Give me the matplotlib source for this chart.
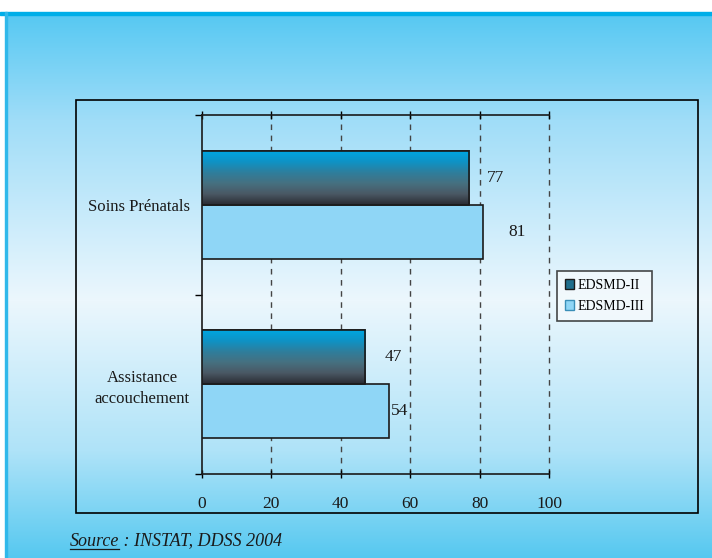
import numpy as np
import matplotlib
matplotlib.use("Agg")
import matplotlib.pyplot as plt
from matplotlib.patches import Rectangle
from matplotlib.lines import Line2D
from matplotlib.colors import LinearSegmentedColormap

plt.rcParams['font.family'] = ['Liberation Serif', 'DejaVu Serif']

# data
categories = ["Assistance\naccouchement", "Soins Prénatals"]
series = ["EDSMD-II", "EDSMD-III"]
edsmd_2 = [47, 77]
edsmd_3 = [54, 81]
label_offsets_2 = [14, 13]   # points, right of bar end
label_offsets_3 = [1, 18]

W, H = 712, 558
fig = plt.figure(figsize=(W / 100, H / 100), dpi=100)

# background gradient with blue border
bg = fig.add_axes([0, 0, 1, 1])
bg.set_xlim(0, W)
bg.set_ylim(H, 0)
bg.axis('off')
stops_y = [12, 120, 300, 450, 558]
stops_c = [(85, 200, 242), (160, 221, 248), (236, 247, 253), (175, 227, 248), (85, 200, 240)]
yy = np.arange(12, H)
img = np.zeros((len(yy), 1, 3))
for k in range(3):
    img[:, 0, k] = np.interp(yy, stops_y, [c[k] for c in stops_c]) / 255
bg.imshow(img, extent=[6, W, H, 12], aspect='auto', zorder=0)
bg.add_patch(Rectangle((0, 12), W, 3, color='#00aee8', zorder=1))
bg.add_patch(Rectangle((5, 12), 2, H, color='#30b8ea', zorder=1))
bg.add_patch(Rectangle((76, 100), 622, 413, fill=False, ec='black', lw=1.2, zorder=2))

ax = fig.add_axes([202 / W, 1 - 474 / H, 347 / W, 359 / H])
ax.patch.set_alpha(0)

y = np.arange(len(categories))
h = 0.3
dark = LinearSegmentedColormap.from_list('d', ['#00a5e0', '#0f92c4', '#2f7e9c', '#467080', '#4a5864', '#2a2c33'])
grad = np.linspace(0, 1, 100).reshape(-1, 1)

bars2 = ax.barh(y + h / 2, edsmd_2, height=h, color='#1a6f90', edgecolor='#1a1a1a', lw=1.2, zorder=3)
for b in bars2:
    x0, y0 = b.get_x(), b.get_y()
    im = ax.imshow(grad, cmap=dark, extent=[x0, x0 + b.get_width(), y0, y0 + b.get_height()],
                   origin='upper', aspect='auto', zorder=3.5)
    im.set_clip_path(b)
    ax.add_patch(Rectangle((x0, y0), b.get_width(), b.get_height(), fill=False,
                           ec='#1a1a1a', lw=1.2, zorder=4))
bars3 = ax.barh(y - h / 2, edsmd_3, height=h, color='#8fd6f6', edgecolor='#1a1a1a', lw=1.2, zorder=3)
ax.set_xlim(0, 100)
ax.set_ylim(-0.5, 1.5)

for b, v, off in zip(bars2, edsmd_2, label_offsets_2):
    ax.annotate(str(v), (v, b.get_y() + b.get_height() / 2), xytext=(off, 0),
                textcoords='offset points', va='center', ha='left', fontsize=12.5, color='#1a1a1a')
for b, v, off in zip(bars3, edsmd_3, label_offsets_3):
    ax.annotate(str(v), (v, b.get_y() + b.get_height() / 2), xytext=(off, 0),
                textcoords='offset points', va='center', ha='left', fontsize=12.5, color='#1a1a1a')

# grid
for gx in [20, 40, 60, 80, 100]:
    ax.axvline(gx, color='#444444', lw=1, ls=(0, (4, 4)), zorder=1, clip_on=False)

ax.set_xticks([0, 20, 40, 60, 80, 100])
ax.tick_params(axis='x', direction='inout', length=6, width=1, pad=13, labelsize=12.5,
               top=True, labelcolor='#1a1a1a')
ax.set_yticks([-0.5, 0.5, 1.5])
ax.set_yticklabels([])
ax.set_yticks(y, minor=True)
ax.set_yticklabels(categories, minor=True, fontsize=12, color='#1a1a1a')
ax.tick_params(axis='y', which='major', direction='out', length=5, width=1)
ax.tick_params(axis='y', which='minor', length=0, pad=9)
for lbl in ax.get_yticklabels(minor=True):
    lbl.set_multialignment('center')
    lbl.set_linespacing(1.4)
ax.spines['right'].set_visible(False)
for s in ['left', 'top', 'bottom']:
    ax.spines[s].set_color('#1a1a1a')
    ax.spines[s].set_linewidth(1.2)

handles = [Rectangle((0, 0), 1, 1, fc='#1f6e8c', ec='#1a1a1a', lw=1),
           Rectangle((0, 0), 1, 1, fc='#8fd6f6', ec='#3a8fb8', lw=1)]
leg = fig.legend(handles, series, loc='upper left', bbox_to_anchor=(557 / W, 1 - 271 / H),
                 fontsize=10, frameon=True, fancybox=False, handlelength=0.7, handleheight=0.7,
                 handletextpad=0.2, borderpad=0.55, labelspacing=0.6, borderaxespad=0)
leg.get_frame().set_edgecolor('#1a1a1a')
leg.get_frame().set_facecolor('#f4fafd')
leg.get_frame().set_linewidth(1.2)

# source line with underlined word
src = bg.text(70, 541, "Source", fontsize=13, style='italic', color='#1a1a1a', va='center')
fig.canvas.draw()
bb = src.get_window_extent().transformed(bg.transData.inverted())
x_end = max(bb.x0, bb.x1)
bg.add_line(Line2D([70, x_end], [549, 549], color='#1a1a1a', lw=0.9))
bg.text(x_end, 541, " : INSTAT, DDSS 2004", fontsize=13, style='italic', color='#1a1a1a', va='center')

fig.savefig("out.png", dpi=100)
